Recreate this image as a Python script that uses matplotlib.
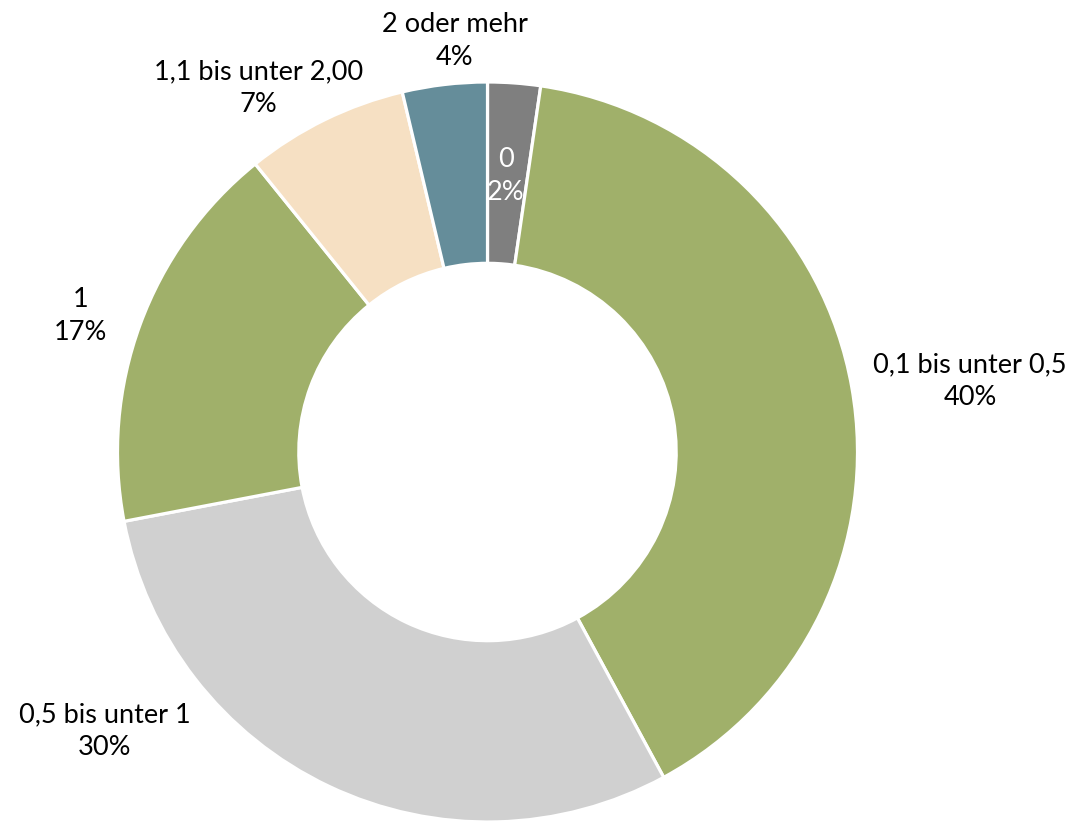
import matplotlib
matplotlib.use("Agg")
import matplotlib.pyplot as plt

# Shares per category (percent)
labels = ["0", "0,1 bis unter 0,5", "0,5 bis unter 1", "1", "1,1 bis unter 2,00", "2 oder mehr"]
shares = [2.3, 39.8, 29.9, 17.2, 7.1, 3.7]
shown = ["2%", "40%", "30%", "17%", "7%", "4%"]
colors = ["#7f7f7f", "#a0b06a", "#d0d0d0", "#a0b06a", "#f6e0c3", "#658d9a"]

# label centres in data units (radius of donut = 1)
label_pos = [(0.05, 0.746), (1.304, 0.192), (-1.034, -0.754),
             (-1.101, 0.368), (-0.620, 0.984), (-0.088, 1.111)]
label_col = ["white", "black", "black", "black", "black", "black"]

plt.rcParams["font.family"] = ["Lato", "DejaVu Sans"]

fig = plt.figure(figsize=(10.81, 8.23), dpi=100)
ax = fig.add_axes([0, 0, 1, 1])

ax.pie(shares, colors=colors, startangle=90, counterclock=False, radius=1,
       wedgeprops=dict(width=0.49, edgecolor="white", linewidth=2.3))

for lab, pct, (x, y), c in zip(labels, shown, label_pos, label_col):
    ax.text(x, y, f"{lab}\n{pct}", ha="center", va="center", fontsize=19.5,
            color=c, linespacing=1.38)

# centre of donut at pixel (487.5, 452), radius 370 px
u = 370.0
ax.set_xlim(-487.5 / u, (1081 - 487.5) / u)
ax.set_ylim(-(823 - 452) / u, 452 / u)
ax.set_aspect("equal")
ax.axis("off")

fig.savefig("out.png", dpi=100)
